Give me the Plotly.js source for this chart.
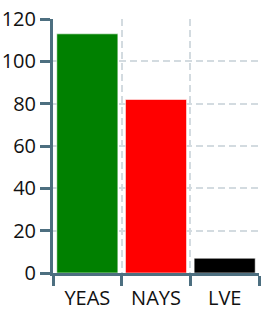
<!DOCTYPE html>
<html>
<head>
<meta charset="utf-8">
<script src="https://cdn.plot.ly/plotly-3.0.1.min.js"></script>
<style>html,body{margin:0;padding:0;background:#fff;}#chart{width:262px;height:312px;}</style>
</head>
<body>
<div id="chart"></div>
<script>
const categories = ["YEAS", "NAYS", "LVE"];
const votes = [113, 82, 7];
const barColors = ["#008000", "#ff0000", "#000000"];
const yTicks = [0, 20, 40, 60, 80, 100, 120];

const axisColor = "#4d6f80";
const gridColor = "#d3dbe0";
const font = {family: "Open Sans, Noto Sans, sans-serif", size: 20, color: "#111"};

Plotly.newPlot("chart", [{
  type: "bar",
  x: categories,
  y: votes,
  marker: {color: barColors, line: {color: "rgba(255,255,255,0.6)", width: 1}},
  hoverinfo: "none"
}], {
  width: 262, height: 312,
  margin: {l: 53, r: 3, t: 19, b: 39, pad: 0},
  paper_bgcolor: "#fff", plot_bgcolor: "#fff",
  font: font,
  bargap: 0.11,
  showlegend: false,
  xaxis: {
    type: "category",
    range: [-0.5, 2.5],
    tickson: "boundaries",
    ticks: "outside", ticklen: 10, tickwidth: 3, tickcolor: axisColor,
    showline: true, linecolor: axisColor, linewidth: 3,
    showgrid: true, gridcolor: gridColor, gridwidth: 2, griddash: "7px,4px",
    tickfont: font,
    ticklabelstandoff: 5,
    fixedrange: true
  },
  yaxis: {
    range: [0, 120],
    tickvals: yTicks,
    ticks: "outside", ticklen: 10, tickwidth: 3, tickcolor: axisColor,
    showline: true, linecolor: axisColor, linewidth: 3,
    showgrid: true, gridcolor: gridColor, gridwidth: 2, griddash: "7px,4px",
    zeroline: false,
    tickfont: font,
    fixedrange: true
  }
}, {displayModeBar: false, staticPlot: true});
</script>
</body>
</html>
